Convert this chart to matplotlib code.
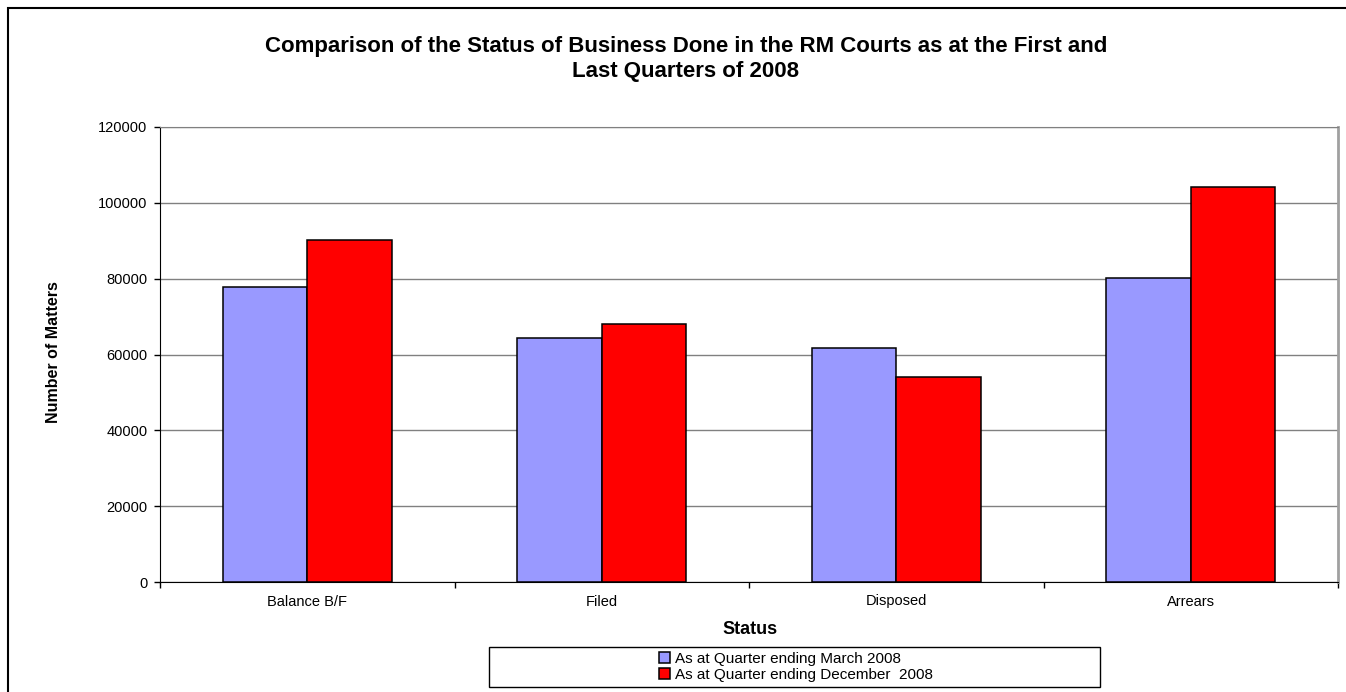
import numpy as np
import matplotlib.pyplot as plt
from matplotlib.patches import Rectangle

plt.rcParams['font.family'] = ['Liberation Sans', 'DejaVu Sans']

# Дані
categories = ['Balance B/F', 'Filed', 'Disposed', 'Arrears']
march_2008 = [77700, 64300, 61800, 80200]
december_2008 = [90200, 68000, 54100, 104200]
series_labels = ['As at Quarter ending March 2008', 'As at Quarter ending December  2008']
y_ticks = [0, 20000, 40000, 60000, 80000, 100000, 120000]

W, H = 1346, 692
fig = plt.figure(figsize=(W / 100, H / 100), dpi=100)

# рамка навколо всієї діаграми
fig.patches.append(Rectangle((8 / W, -0.2), 1.2, 1.2 - 8 / H, transform=fig.transFigure,
                             fill=False, edgecolor='black', linewidth=1.5, zorder=0))

ax = fig.add_axes([160 / W, 110 / H, 1178 / W, 455 / H])

x = np.arange(len(categories))
bw = 0.287
ax.bar(x - bw / 2, march_2008, bw, color='#9999FF', edgecolor='black', linewidth=1.1,
       label=series_labels[0], zorder=3)
ax.bar(x + bw / 2, december_2008, bw, color='#FF0000', edgecolor='black', linewidth=1.1,
       label=series_labels[1], zorder=3)

ax.set_xlim(-0.5, len(categories) - 0.5)
ax.set_ylim(0, 120000)
ax.set_yticks(y_ticks)
ax.set_yticklabels([str(v) for v in y_ticks], fontsize=10.5)
ax.yaxis.grid(True, color='#808080', linewidth=1, zorder=0)
ax.set_axisbelow(True)

# мітки категорій та поділки між ними
ax.set_xticks(x)
ax.set_xticklabels(categories, fontsize=10.5)
ax.tick_params(axis='x', length=0, pad=9)
ax.set_xticks(np.arange(-0.5, len(categories)), minor=True)
ax.tick_params(axis='x', which='minor', length=4, width=1, color='black', direction='out')
ax.tick_params(axis='y', length=4, width=1, color='black', direction='out', pad=5)

ax.spines['left'].set_color('black')
ax.spines['bottom'].set_color('black')
ax.spines['top'].set_color('#808080')
ax.spines['right'].set_color('#A0A0A0')
ax.spines['right'].set_linewidth(2)

fig.text(686 / W, 1 - 59 / H,
         'Comparison of the Status of Business Done in the RM Courts as at the First and\nLast Quarters of 2008',
         ha='center', va='center', fontsize=16, fontweight='bold', linespacing=1.3)
fig.text(750 / W, 1 - 630 / H, 'Status', ha='center', va='center', fontsize=13, fontweight='bold')
fig.text(54 / W, 1 - 352 / H, 'Number of Matters', ha='center', va='center', rotation=90,
         fontsize=11.5, fontweight='bold')

# легенда
fig.patches.append(Rectangle((489 / W, 1 - 687 / H), 611 / W, 40 / H, transform=fig.transFigure,
                             fill=False, edgecolor='black', linewidth=1))
leg = fig.legend(loc='center', bbox_to_anchor=(796 / W, 1 - 667 / H), frameon=False,
                 fontsize=11, handlelength=0.75, handleheight=0.75, handletextpad=0.3,
                 labelspacing=0.15, borderpad=0)

fig.savefig('out.png', dpi=100)
